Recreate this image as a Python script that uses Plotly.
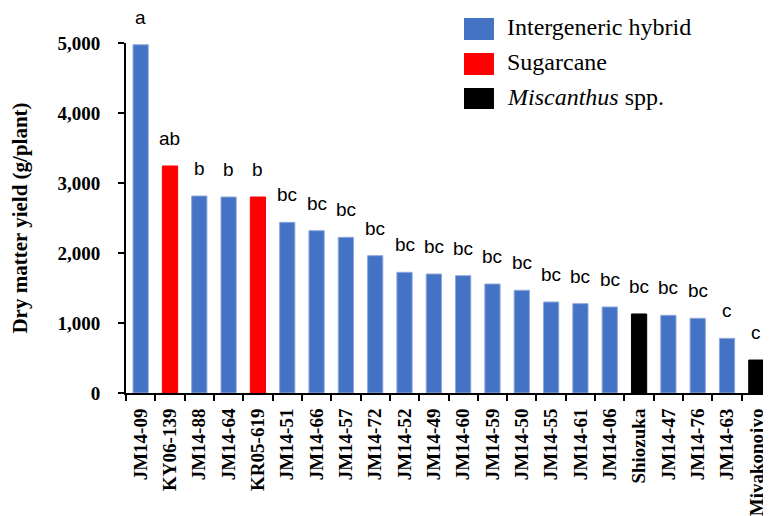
import plotly.graph_objects as go

categories = ["JM14-09", "KY06-139", "JM14-88", "JM14-64", "KR05-619", "JM14-51",
              "JM14-66", "JM14-57", "JM14-72", "JM14-52", "JM14-49", "JM14-60",
              "JM14-59", "JM14-50", "JM14-55", "JM14-61", "JM14-06", "Shiozuka",
              "JM14-47", "JM14-76", "JM14-63", "Miyakonojyo"]
yields = [4975, 3243, 2814, 2800, 2800, 2438, 2319, 2224, 1962, 1724, 1700, 1676,
          1557, 1467, 1300, 1276, 1229, 1129, 1110, 1067, 781, 471]
groups = ["hybrid", "sugarcane", "hybrid", "hybrid", "sugarcane", "hybrid",
          "hybrid", "hybrid", "hybrid", "hybrid", "hybrid", "hybrid",
          "hybrid", "hybrid", "hybrid", "hybrid", "hybrid", "miscanthus",
          "hybrid", "hybrid", "hybrid", "miscanthus"]
letters = ["a", "ab", "b", "b", "b", "bc", "bc", "bc", "bc", "bc", "bc", "bc",
           "bc", "bc", "bc", "bc", "bc", "bc", "bc", "bc", "c", "c"]
group_names = {"hybrid": "Intergeneric hybrid", "sugarcane": "Sugarcane",
               "miscanthus": "<i>Miscanthus</i> spp."}
group_colors = {"hybrid": "#4472C4", "sugarcane": "#FF0000", "miscanthus": "#000000"}
group_lines = {"hybrid": "#8EA9DB", "sugarcane": "#FF0000", "miscanthus": "#000000"}
y_ticks = [0, 1000, 2000, 3000, 4000, 5000]

SERIF = "Liberation Serif, Times New Roman, DejaVu Serif, serif"

fig = go.Figure()
for g in ["hybrid", "sugarcane", "miscanthus"]:
    xs = [c for c, gg in zip(categories, groups) if gg == g]
    ys = [v for v, gg in zip(yields, groups) if gg == g]
    fig.add_trace(go.Bar(x=xs, y=ys, name=group_names[g], width=0.52,
                         marker=dict(color=group_colors[g],
                                     line=dict(color=group_lines[g], width=1)),
                         showlegend=False, cliponaxis=False))

for c, v, l in zip(categories, yields, letters):
    fig.add_annotation(x=c, y=v, text=l, showarrow=False, yanchor="bottom",
                       yshift=15, font=dict(family="Liberation Sans", size=19, color="black"))

# legend drawn manually (paper coordinates)
rects = [(1.0086, 1.0714), (0.9086, 0.9714), (0.8114, 0.8714)]
text_y = [1.045, 0.945, 0.845]
for i, g in enumerate(["hybrid", "sugarcane", "miscanthus"]):
    fig.add_shape(type="rect", xref="paper", yref="paper",
                  x0=0.524, x1=0.5705, y0=rects[i][0], y1=rects[i][1],
                  fillcolor=group_colors[g], line=dict(width=0))
    fig.add_annotation(xref="paper", yref="paper", x=0.588, y=text_y[i], text=group_names[g],
                       showarrow=False, xanchor="left", yanchor="middle",
                       font=dict(family=SERIF, size=24, color="black", weight="normal"))

fig.update_layout(
    width=763, height=508,
    margin=dict(l=118, r=0, t=35, b=123),
    paper_bgcolor="white", plot_bgcolor="white",
    barmode="overlay",
)
fig.update_xaxes(categoryorder="array", categoryarray=categories,
                 showline=True, linecolor="black", linewidth=2,
                 ticks="outside", ticklen=6, tickcolor="black", tickwidth=1.5,
                 tickson="boundaries", tickangle=-90, ticklabelstandoff=6,
                 tickfont=dict(family=SERIF, size=19, color="black", weight="bold"),
                 range=[-0.5, len(categories) - 0.5])
fig.update_yaxes(range=[0, 5000], tickvals=y_ticks, tickformat=",",
                 showline=True, linecolor="black", linewidth=2,
                 ticks="outside", ticklen=6, tickcolor="black", tickwidth=1.5,
                 ticklabelstandoff=14,
                 showgrid=False, zeroline=False,
                 tickfont=dict(family=SERIF, size=19, color="black", weight="bold"),
                 title=dict(text="Dry matter yield (g/plant)", standoff=28,
                            font=dict(family=SERIF, size=21, color="black", weight="bold")))

fig.write_html("out.html")
